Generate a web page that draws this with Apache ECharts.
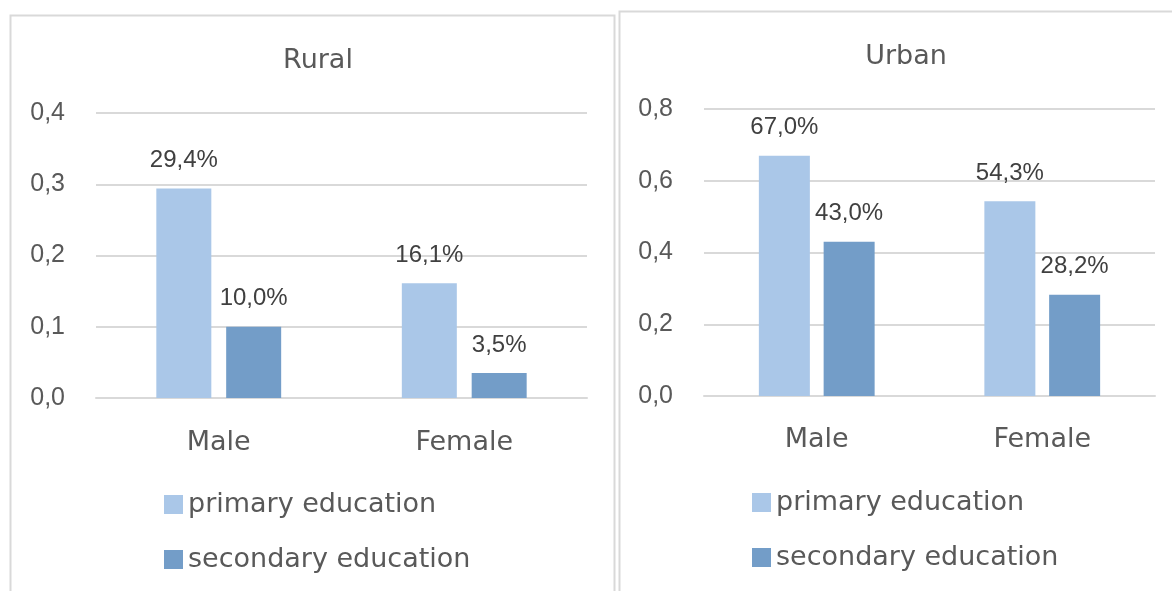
<!DOCTYPE html>
<html>
<head>
<meta charset="utf-8">
<script src="https://cdn.jsdelivr.net/npm/echarts@6/dist/echarts.min.js"></script>
<style>
  html, body { margin: 0; padding: 0; background: #fff; }
  #chart { width: 1172px; height: 591px; }
</style>
</head>
<body>
<div id="chart"></div>
<script>
// data
var categories = ['Male', 'Female'];
var seriesNames = ['primary education', 'secondary education'];
var ruralPrimary = [0.294, 0.161];
var ruralSecondary = [0.100, 0.035];
var urbanPrimary = [0.670, 0.543];
var urbanSecondary = [0.430, 0.282];
var ruralAxis = { max: 0.4, interval: 0.1 };
var urbanAxis = { max: 0.8, interval: 0.2 };

var colPrimary = '#aac7e8';
var colSecondary = '#739dc8';
var sansFont = 'DejaVu Sans';
var sansSize = 27;
var numFont = 'Liberation Sans';

function comma(v, d) {
    return v.toFixed(d).replace('.', ',');
}

function pctLabel() {
    return {
        show: true,
        position: 'top',
        distance: 16,
        color: '#404040',
        fontFamily: numFont,
        fontSize: 24,
        formatter: function (p) { return comma(p.value * 100, 1) + '%'; }
    };
}

function xAxisFor(idx, margin) {
    return {
        type: 'category',
        gridIndex: idx,
        data: categories,
        axisTick: { show: false },
        axisLine: { lineStyle: { color: '#d9d9d9', width: 2 } },
        axisLabel: { color: '#595959', fontFamily: sansFont, fontSize: sansSize, margin: margin }
    };
}

function yAxisFor(idx, cfg) {
    return {
        type: 'value',
        gridIndex: idx,
        min: 0,
        max: cfg.max,
        interval: cfg.interval,
        axisLine: { show: false },
        axisTick: { show: false },
        splitLine: { lineStyle: { color: '#d9d9d9', width: 2 } },
        axisLabel: {
            color: '#595959', fontFamily: numFont, fontSize: 25, margin: 31,
            formatter: function (v) { return comma(v, 1); }
        }
    };
}

function barSeries(name, data, idx, color, width) {
    return {
        type: 'bar',
        name: name,
        xAxisIndex: idx,
        yAxisIndex: idx,
        data: data,
        barWidth: width,
        barGap: '27%',
        itemStyle: { color: color },
        label: pctLabel()
    };
}

function legendAt(left, top) {
    return {
        orient: 'vertical',
        left: left,
        top: top,
        padding: 0,
        icon: 'rect',
        itemWidth: 19,
        itemHeight: 19,
        itemGap: 28,
        data: seriesNames,
        textStyle: { color: '#595959', fontFamily: sansFont, fontSize: sansSize, lineHeight: 24 }
    };
}

var chart = echarts.init(document.getElementById('chart'));
chart.setOption({
    animation: false,
    backgroundColor: '#fff',
    graphic: [
        { type: 'rect', shape: { x: 10.5, y: 15.5, width: 604, height: 620 }, style: { fill: 'none', stroke: '#d9d9d9', lineWidth: 2 } },
        { type: 'rect', shape: { x: 619.5, y: 11.5, width: 620, height: 620 }, style: { fill: 'none', stroke: '#d9d9d9', lineWidth: 2 } }
    ],
    title: [
        { text: 'Rural', left: 313, top: 42, textAlign: 'center',
          textStyle: { color: '#595959', fontFamily: sansFont, fontSize: sansSize, fontWeight: 'normal' } },
        { text: 'Urban', left: 901, top: 38, textAlign: 'center',
          textStyle: { color: '#595959', fontFamily: sansFont, fontSize: sansSize, fontWeight: 'normal' } }
    ],
    legend: [legendAt(164, 491), legendAt(752, 489)],
    grid: [
        { left: 96, right: 585, top: 113, bottom: 193 },
        { left: 704, right: 17, top: 109, bottom: 195 }
    ],
    xAxis: [xAxisFor(0, 31), xAxisFor(1, 30)],
    yAxis: [yAxisFor(0, ruralAxis), yAxisFor(1, urbanAxis)],
    series: [
        barSeries(seriesNames[0], ruralPrimary, 0, colPrimary, 55),
        barSeries(seriesNames[1], ruralSecondary, 0, colSecondary, 55),
        barSeries(seriesNames[0], urbanPrimary, 1, colPrimary, 51),
        barSeries(seriesNames[1], urbanSecondary, 1, colSecondary, 51)
    ]
});
</script>
</body>
</html>
